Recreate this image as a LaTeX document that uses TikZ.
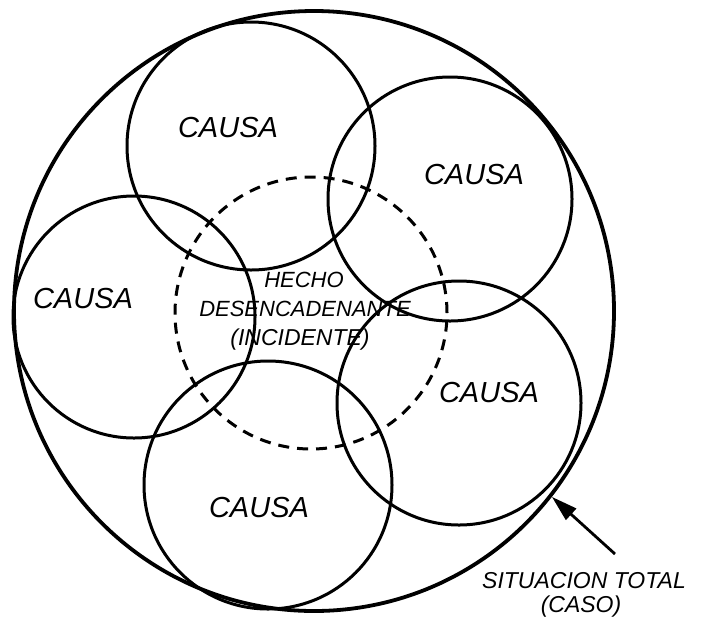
\documentclass[tikz,border=0pt]{standalone}
\usepackage{fontspec}
\setmainfont{Liberation Sans}
\usetikzlibrary{arrows.meta}
\begin{document}
\begin{tikzpicture}[x=1pt,y=-1pt,
  causecircle/.style={circle, draw, line width=3pt, inner sep=0pt},
  bigcircle/.style={circle, draw, line width=3.8pt, inner sep=0pt, minimum size=600pt},
  eventcircle/.style={circle, draw, line width=3pt, inner sep=0pt, dash pattern=on 11pt off 8pt},
  causelabel/.style={font=\fontsize{29}{31}\selectfont\itshape, inner sep=0pt},
  eventlabel/.style={font=\fontsize{22}{24}\selectfont\itshape, inner sep=0pt, align=center},
  notelabel/.style={font=\fontsize{23}{25}\selectfont\itshape, inner sep=0pt},
  pointer/.style={-{Triangle[length=26pt,width=15pt]}, line width=2.8pt}]
\useasboundingbox (0,0) rectangle (701,625);
\fill[white] (0,0) rectangle (701,625);
% total situation
\node[bigcircle] (big) at (314,311) {};
% causes
\node[causecircle, minimum size=248pt] (c1) at (251,146) {};
\node[causecircle, minimum size=244pt] (c2) at (450,199) {};
\node[causecircle, minimum size=242pt] (c3) at (134,317) {};
\node[causecircle, minimum size=244pt] (c4) at (459,403) {};
\node[causecircle, minimum size=248pt] (c5) at (268,485) {};
% triggering event
\node[eventcircle, minimum size=272pt] (ev) at (311,313) {};
% labels
\node[causelabel] (l1) at (228,128) {CAUSA};
\node[causelabel] (l2) at (474,175) {CAUSA};
\node[causelabel] (l3) at (83,299) {CAUSA};
\node[causelabel] (l4) at (489,393) {CAUSA};
\node[causelabel] (l5) at (259,508) {CAUSA};
\node[eventlabel] (h1) at (304,280) {HECHO};
\node[eventlabel] (h2) at (305,309) {DESENCADENANTE};
\node[eventlabel, font=\fontsize{23}{25}\selectfont\itshape] (h3) at (300,340) {(INCIDENTE)};
% note
\node[notelabel, anchor=west] (n1) at (482,581) {SITUACION TOTAL};
\node[notelabel] (n2) at (581,607) {(CASO)};
\coordinate (tail) at (615,554);
\draw[pointer] (tail) -- (big.-38);
\end{tikzpicture}
\end{document}
